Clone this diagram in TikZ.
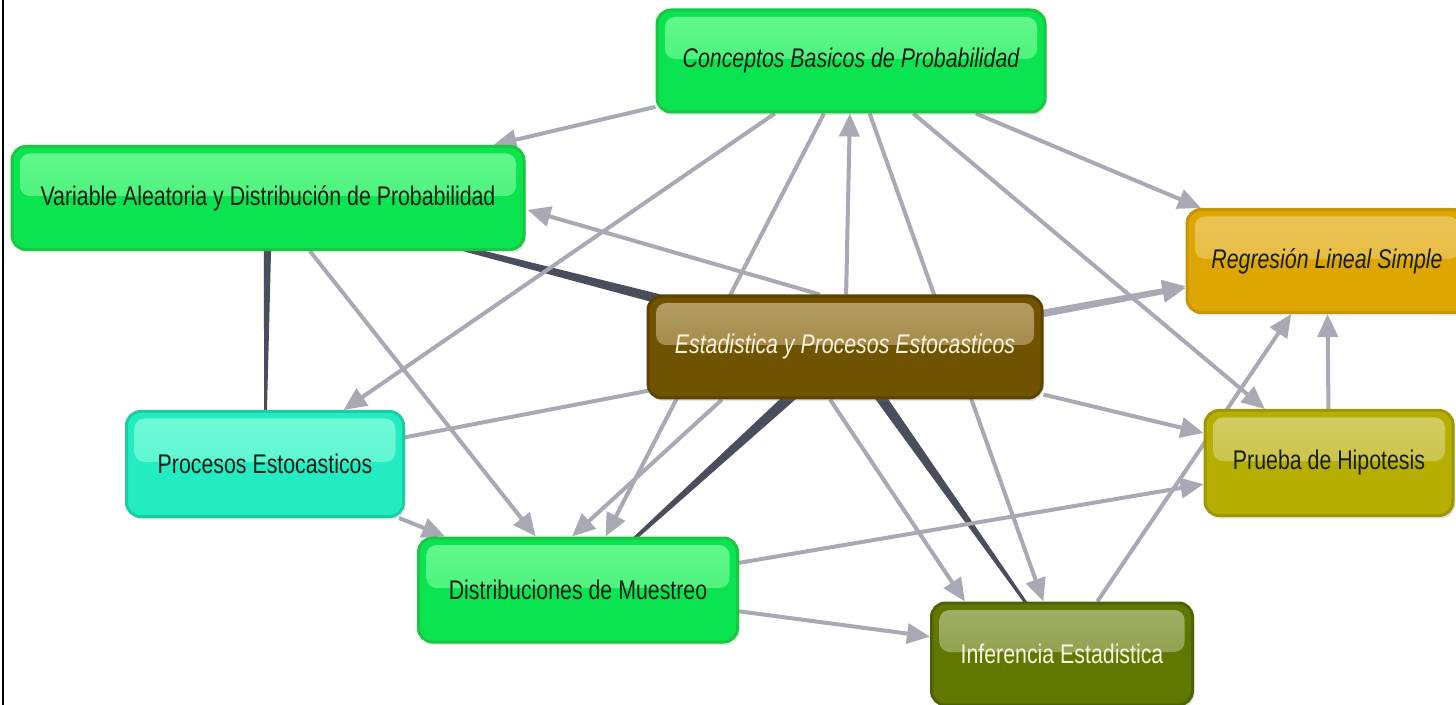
\documentclass[tikz,border=0pt]{standalone}
\usepackage{fontspec}
\setmainfont{Liberation Sans}[FakeStretch=0.79]
\usetikzlibrary{arrows.meta,calc,shadows}
\pgfdeclarelayer{back}
\pgfdeclarelayer{bg}
\pgfsetlayers{back,bg,main}
\definecolor{grnB}{RGB}{10,228,80}
\definecolor{grnT}{RGB}{100,248,140}
\definecolor{grnD}{RGB}{25,200,65}
\definecolor{cyB}{RGB}{35,236,195}
\definecolor{cyT}{RGB}{115,250,215}
\definecolor{cyD}{RGB}{25,205,165}
\definecolor{brB}{RGB}{112,83,0}
\definecolor{brT}{RGB}{182,158,100}
\definecolor{brD}{RGB}{92,68,0}
\definecolor{goB}{RGB}{222,166,0}
\definecolor{goT}{RGB}{234,196,88}
\definecolor{goD}{RGB}{200,148,0}
\definecolor{olB}{RGB}{182,174,0}
\definecolor{olT}{RGB}{210,204,100}
\definecolor{olD}{RGB}{158,152,0}
\definecolor{igB}{RGB}{96,120,0}
\definecolor{igT}{RGB}{162,176,105}
\definecolor{igD}{RGB}{78,98,0}
\definecolor{txtD}{RGB}{22,30,22}
\definecolor{txtL}{RGB}{248,242,225}
\definecolor{edgec}{RGB}{168,169,180}
\definecolor{linkc}{RGB}{74,78,92}
\newcommand\pxu{0.5pt}
\newcommand\mytaper[3]{\fill[linkc] ($(#1)!#3!90:(#2)$) -- ($(#2)!0.3pt!-90:(#1)$) -- ($(#2)!0.3pt!90:(#1)$) -- ($(#1)!#3!-90:(#2)$) -- cycle;}
\tikzset{
  box/.style={rounded corners=7pt, line width=1.5pt, inner sep=0pt, align=center,
    font=\fontsize{13.5}{15}\selectfont,
    drop shadow={opacity=0.22,shadow xshift=1pt,shadow yshift=-1.5pt}},
  glossy/.style n args={4}{fill=#1, draw=#3, text=#4,
    path picture={\shade[top color=#2, bottom color=#2!50!#1, rounded corners=5pt]
      ([xshift=4pt,yshift=-3.5pt]path picture bounding box.north west) rectangle
      ([xshift=-4pt,yshift=1pt]path picture bounding box.east);}},
  arr/.style={draw=edgec, line width=2pt, -{Triangle[length=11.5pt,width=10pt]}},
}
\begin{document}
\begin{tikzpicture}[x=0.5pt,y=-0.5pt]
\path[use as bounding box] (0,0) rectangle (1456,705);
\clip (0,0) rectangle (1456,705);
\begin{pgfonlayer}{back}
\fill[white] (0,0) rectangle (1456,705);
\end{pgfonlayer}
\draw[line width=1pt, black] (3,0) -- (3,705);

\node[box, glossy={grnB}{grnT}{grnD}{txtD}, minimum width=388*\pxu, minimum height=102*\pxu] (cbp) at (851,61) {\raisebox{-1.2pt}{\itshape Conceptos Basicos de Probabilidad}};
\node[box, glossy={grnB}{grnT}{grnD}{txtD}, minimum width=512*\pxu, minimum height=103*\pxu] (vadp) at (268,198) {\raisebox{-1.2pt}{Variable Aleatoria y Distribución de Probabilidad}};
\node[box, glossy={brB}{brT}{brD}{txtL}, minimum width=394*\pxu, minimum height=102*\pxu] (epe) at (845,347) {\raisebox{-1.2pt}{\itshape Estadistica y Procesos Estocasticos}};
\node[box, glossy={goB}{goT}{goD}{txtD}, minimum width=280*\pxu, minimum height=103*\pxu] (rls) at (1327,261) {\raisebox{-1.2pt}{\itshape Regresión Lineal Simple}};
\node[box, glossy={olB}{olT}{olD}{txtD}, minimum width=248*\pxu, minimum height=105*\pxu] (ph) at (1329,463) {\raisebox{-1.2pt}{Prueba de Hipotesis}};
\node[box, glossy={cyB}{cyT}{cyD}{txtD}, minimum width=277*\pxu, minimum height=105*\pxu] (pe) at (265,464) {\raisebox{-1.2pt}{Procesos Estocasticos}};
\node[box, glossy={grnB}{grnT}{grnD}{txtD}, minimum width=319*\pxu, minimum height=104*\pxu] (dm) at (578,590) {\raisebox{-1.2pt}{Distribuciones de Muestreo}};
\node[box, glossy={igB}{igT}{igD}{txtL}, minimum width=261*\pxu, minimum height=102*\pxu] (ie) at (1062,654) {\raisebox{-1.2pt}{Inferencia Estadistica}};

\coordinate (epeA) at ($(epe.north)+(-25,0)$);
\coordinate (vadpA) at ($(vadp.east)+(2,12)$);
\coordinate (epeB) at ($(epe.south)+(-123,0)$);
\coordinate (dmB) at ($(dm.north)+(-6,0)$);
\coordinate (epeC) at ($(epe.south)+(-15,0)$);
\coordinate (ieC) at ($(ie.north)+(-97,0)$);

\begin{pgfonlayer}{bg}
\mytaper{epe}{vadp}{3.4pt}
\mytaper{vadp}{pe}{2.2pt}
\mytaper{epe}{dm}{3.3pt}
\mytaper{epe}{ie}{3.1pt}
\draw[arr] (cbp) -- (vadp);
\draw[arr] (cbp) -- (pe);
\draw[arr] (epe) -- (cbp);
\draw[arr] (cbp) -- (dm);
\draw[arr] (cbp) -- (ie);
\draw[arr] (cbp) -- (ph);
\draw[arr] (cbp) -- (rls);
\draw[arr] (epeA) -- (vadpA);
\draw[arr] (vadp) -- (dm);
\draw[arr] (pe) -- (dm);
\draw[arr] (pe) -- (rls);
\draw[arr] (epe) -- (rls);
\draw[arr] (epe) -- (ph);
\draw[arr] (dm) -- (ph);
\draw[arr] (dm) -- (ie);
\draw[arr] (epeB) -- (dmB);
\draw[arr] (epeC) -- (ieC);
\draw[arr] (ie) -- (rls);
\draw[arr] (ph) -- (rls);
\end{pgfonlayer}
\end{tikzpicture}
\end{document}
